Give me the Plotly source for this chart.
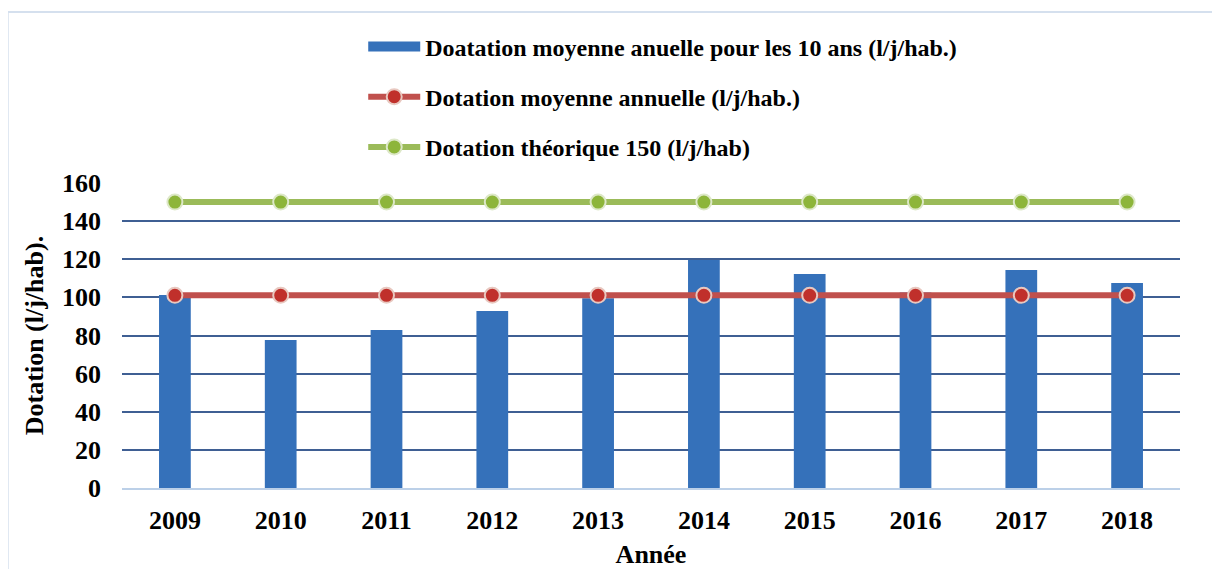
import plotly.graph_objects as go

years = ["2009", "2010", "2011", "2012", "2013", "2014", "2015", "2016", "2017", "2018"]
dot_annuelle = [101.3, 77.6, 82.9, 92.9, 99.5, 119.6, 112.3, 102.6, 114.4, 107.6]
dot_moyenne = [101.1] * 10
dot_theorique = [150] * 10

FONT = "Liberation Serif, Times New Roman, serif"
BAR_COLOR = "#3571BA"

fig = go.Figure()
fig.add_trace(go.Bar(
    x=years, y=dot_annuelle,
    name="<b>Doatation moyenne anuelle pour les 10 ans (l/j/hab.)</b>",
    marker=dict(color=BAR_COLOR, line=dict(width=0)),
    width=0.3, legendgroup="a", showlegend=False,
))
# legend entry for the bars (wide rectangle, as in the reference)
fig.add_trace(go.Scatter(
    x=[None], y=[None], mode="lines",
    name="<b>Doatation moyenne anuelle pour les 10 ans (l/j/hab.)</b>",
    line=dict(color=BAR_COLOR, width=10), legendgroup="a",
))
fig.add_trace(go.Scatter(
    x=years, y=dot_moyenne, mode="lines+markers",
    name="<b>Dotation moyenne annuelle (l/j/hab.)</b>",
    line=dict(color="#C0504D", width=6),
    marker=dict(color="#C0302B", size=15, line=dict(color="#E8C8C0", width=2)),
    legendgroup="b",
))
fig.add_trace(go.Scatter(
    x=years, y=dot_theorique, mode="lines+markers",
    name="<b>Dotation théorique 150 (l/j/hab)</b>",
    line=dict(color="#9BBB59", width=6),
    marker=dict(color="#8DB53A", size=15, line=dict(color="#DDE8C8", width=2)),
    legendgroup="c",
))

fig.update_layout(
    width=1212, height=561,
    margin=dict(l=114, r=40, t=175, b=81, autoexpand=False),
    paper_bgcolor="white", plot_bgcolor="white",
    font=dict(family=FONT, color="black"),
    showlegend=True,
    legend=dict(
        x=0.228, y=1.52, xanchor="left", yanchor="top",
        font=dict(size=24, family=FONT, color="black"),
        tracegroupgap=16, itemwidth=52, traceorder="grouped",
        bgcolor="rgba(0,0,0,0)",
    ),
    xaxis=dict(
        type="category", range=[-0.5, 9.5],
        tickfont=dict(size=26, family=FONT, color="black", weight="bold"),
        ticklabelstandoff=8,
        showgrid=False, showline=True, linecolor="#BCD0E8", linewidth=2,
        title=dict(text="<b>Année</b>", font=dict(size=26, family=FONT, color="black"), standoff=22),
    ),
    yaxis=dict(
        range=[0, 160], dtick=20, tick0=0,
        tickfont=dict(size=26, family=FONT, color="black", weight="bold"),
        ticklabelstandoff=20,
        showgrid=True, gridcolor="#3F5F93", gridwidth=1.5,
        zeroline=False, showline=False,
        title=dict(text="<b>Dotation (l/j/hab).</b>", font=dict(size=26, family=FONT, color="black"), standoff=10),
    ),
    shapes=[
        dict(type="line", xref="paper", yref="paper", x0=-0.108, x1=-0.108, y0=-0.3, y1=1.561,
             line=dict(color="#D5E0EE", width=2)),
        dict(type="line", xref="paper", yref="paper", x0=-0.108, x1=1.05, y0=1.561, y1=1.561,
             line=dict(color="#D5E0EE", width=2)),
    ],
)

fig.write_html("out.html")
